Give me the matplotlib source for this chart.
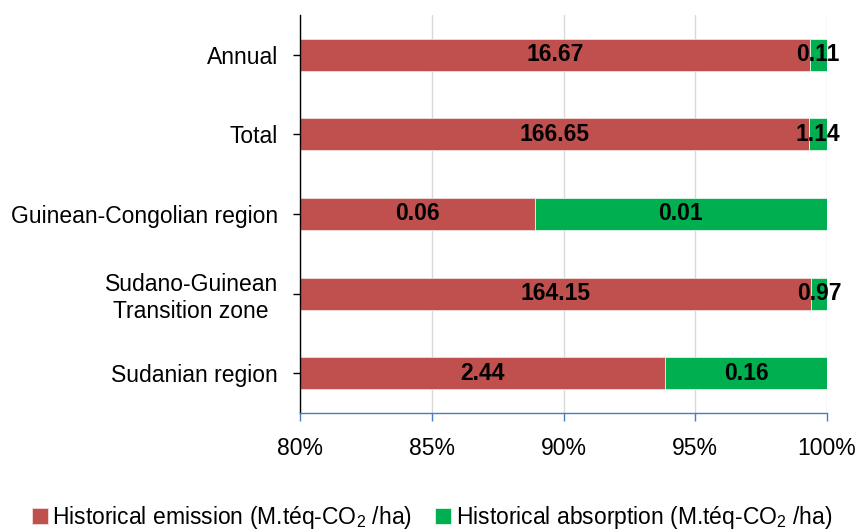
import matplotlib
matplotlib.use("Agg")
import matplotlib.pyplot as plt
import numpy as np

plt.rcParams['font.family'] = ['Liberation Sans', 'DejaVu Sans']
plt.rcParams['mathtext.fontset'] = 'custom'
plt.rcParams['mathtext.rm'] = 'Liberation Sans'
plt.rcParams['mathtext.it'] = 'Liberation Sans'

# categories, bottom to top
categories = ["Sudanian region", "Sudano-Guinean\nTransition zone", "Guinean-Congolian region", "Total", "Annual"]
# labels shown in the bars (M.téq-CO2/ha)
emission_labels = ["2.44", "164.15", "0.06", "166.65", "16.67"]
absorption_labels = ["0.16", "0.97", "0.01", "1.14", "0.11"]
# emission share of each bar in % (absorption fills to 100%)
emission_share = [93.85, 99.41, 88.9, 99.32, 99.34]
absorption_share = [100 - v for v in emission_share]

red = "#C0504D"
green = "#00B050"
blue = "#4A7EBB"
fs = 16.5

fig = plt.figure(figsize=(8.64, 5.32), dpi=100)
ax = fig.add_axes([300/864, 1 - 413/532, 527/864, 398/532])

y = np.arange(len(categories))
ax.barh(y, emission_share, height=0.4, color=red, edgecolor="#f2dcdb", linewidth=0.6,
        label="Historical emission (M.téq-CO$_2$ /ha)")
ax.barh(y, absorption_share, left=emission_share, height=0.4, color=green, edgecolor="#e0f5e8",
        linewidth=0.6, label="Historical absorption (M.téq-CO$_2$ /ha)")

# value labels, centred in each segment (visible part)
for i in range(len(categories)):
    xe = (80 + emission_share[i]) / 2
    ax.text(xe, y[i], emission_labels[i], ha="center", va="center", fontsize=fs, fontweight="bold")
    xa = emission_share[i] + absorption_share[i] / 2
    ax.text(xa, y[i], absorption_labels[i], ha="center", va="center", fontsize=fs, fontweight="bold")

ax.set_xlim(80, 100)
ax.set_ylim(-0.5, 4.5)
ax.set_xticks([80, 85, 90, 95, 100])
ax.set_xticklabels(["80%", "85%", "90%", "95%", "100%"])
ax.set_yticks(y)
ax.set_yticklabels(categories, multialignment="center")

ax.xaxis.grid(True, color="#d9d9d9", linewidth=1)
ax.set_axisbelow(True)

for s in ["top", "right"]:
    ax.spines[s].set_visible(False)
ax.spines["bottom"].set_color(blue)
ax.spines["bottom"].set_linewidth(1)
ax.spines["left"].set_color("black")
ax.spines["left"].set_linewidth(1)

ax.tick_params(axis="x", colors=blue, length=6, width=1, pad=11, labelsize=fs, labelcolor="black")
ax.tick_params(axis="y", length=5, width=1, pad=11, labelsize=fs)

fig.legend(loc="center", bbox_to_anchor=(0.5, 0.027), ncol=2, frameon=False, fontsize=fs,
           handlelength=0.7, handleheight=0.7, handletextpad=0.2, columnspacing=1.0)

plt.savefig("out.png", dpi=100)
